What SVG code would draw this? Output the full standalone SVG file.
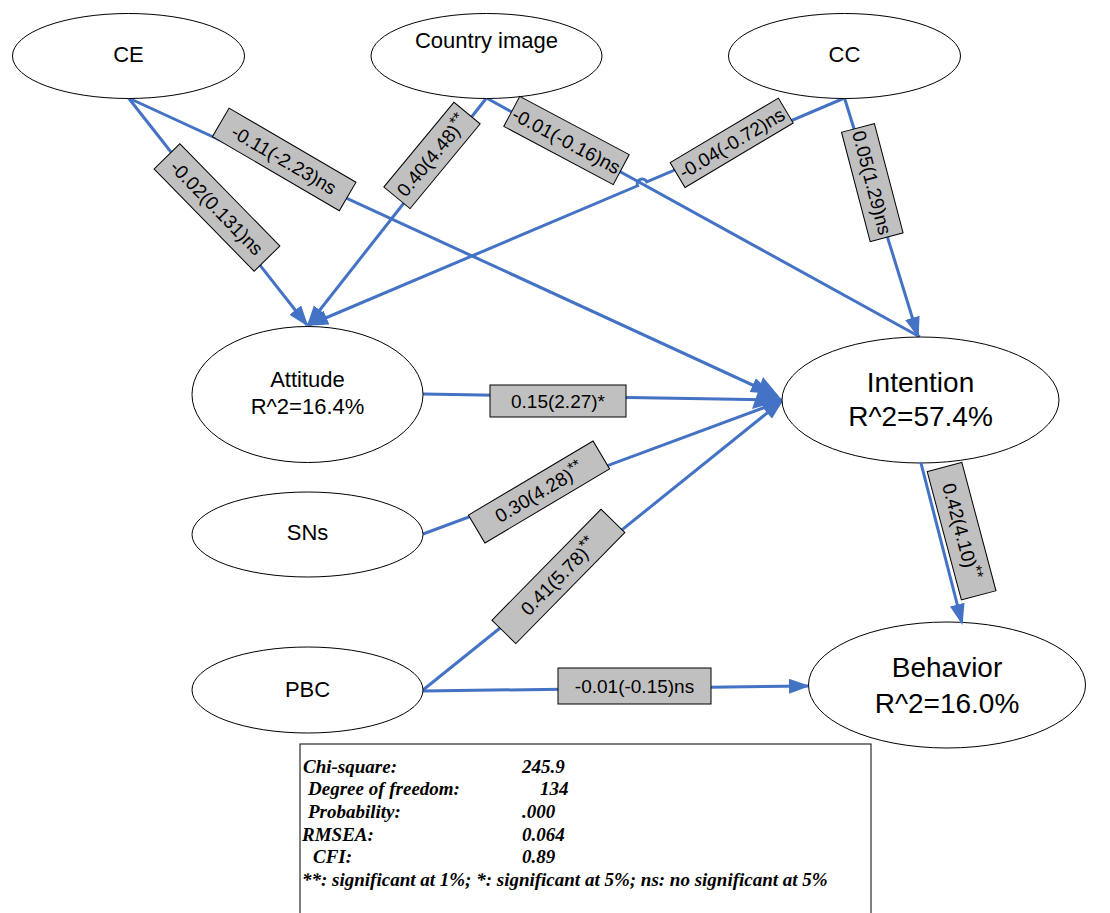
<svg xmlns="http://www.w3.org/2000/svg" width="1110" height="913" viewBox="0 0 1110 913">
<style>
.node{fill:#fff;stroke:#000;stroke-width:1}
.nt{font-family:"Liberation Sans",Arial,sans-serif;font-size:22px;fill:#000;text-anchor:middle}
.bt{font-family:"Liberation Sans",Arial,sans-serif;font-size:28px;fill:#000;text-anchor:middle}
.c{fill:none;stroke:#4472C4;stroke-width:3;marker-end:url(#arr)}
.cn{fill:none;stroke:#4472C4;stroke-width:3}
.lb rect{fill:#C0C0C0;stroke:#000;stroke-width:1}
.lb text{font-family:"Liberation Sans",Arial,sans-serif;font-size:19px;fill:#000;text-anchor:middle}
.sup{font-size:16px}
.st{font-family:"Liberation Serif","Times New Roman",serif;font-size:19px;font-weight:bold;font-style:italic;fill:#000}
</style>
<defs>
<marker id="arr" markerUnits="userSpaceOnUse" markerWidth="22" markerHeight="16" refX="19" refY="7.5" orient="auto">
<path d="M0,0 L21,7.5 L0,15 z" fill="#4472C4"/>
</marker>
</defs>
<rect width="1110" height="913" fill="#fff"/>

<g id="connectors">
<path class="c" d="M128.5,98 L307,325"/>
<path class="c" d="M128.5,98 L770,393"/>
<path class="c" d="M486.5,98 L308,325"/>
<path class="cn" d="M486.5,98 L920,337"/>
<path class="c" d="M844.5,98 L646.8,181.9 A5,5 0 0 0 637.6,185.8 L309,325"/>
<path class="c" d="M844.5,98 L918,336"/>
<path class="c" d="M423,394 L782,400"/>
<path class="c" d="M423,534 L782,401"/>
<path class="c" d="M423,690 L782,401"/>
<path class="c" d="M423,691 L808,686"/>
<polygon points="763,377 752,409 782,400" fill="#4472C4"/>
</g>

<g id="node-ce"><ellipse class="node" cx="128.5" cy="56" rx="116" ry="42.5"/><text class="nt" x="128.5" y="62">CE</text></g>
<g id="node-country-image"><ellipse class="node" cx="486.5" cy="56" rx="115.5" ry="42.5"/><text class="nt" x="486.5" y="48">Country image</text></g>
<g id="node-cc"><ellipse class="node" cx="844.5" cy="56" rx="116" ry="42.5"/><text class="nt" x="844.5" y="62">CC</text></g>
<g id="node-attitude"><ellipse class="node" cx="307.5" cy="394.5" rx="115.5" ry="68"/><text class="nt" x="307.5" y="387">Attitude</text><text class="nt" x="307.5" y="414">R^2=16.4%</text></g>
<g id="node-sns"><ellipse class="node" cx="307.5" cy="534.5" rx="115.5" ry="42.5"/><text class="nt" x="307.5" y="540">SNs</text></g>
<g id="node-pbc"><ellipse class="node" cx="307.5" cy="690" rx="115.5" ry="43"/><text class="nt" x="307.5" y="697">PBC</text></g>
<g id="node-intention"><ellipse class="node" cx="920.5" cy="400" rx="138.5" ry="63"/><text class="bt" x="920.5" y="392">Intention</text><text class="bt" x="920.5" y="426">R^2=57.4%</text></g>
<g id="node-behavior"><ellipse class="node" cx="947" cy="685" rx="138.5" ry="63"/><text class="bt" x="947" y="677">Behavior</text><text class="bt" x="947" y="713">R^2=16.0%</text></g>

<g id="labels" class="lb">
<g transform="translate(217,207.5) rotate(45.6)"><rect x="-71.5" y="-18" width="143" height="36"/><text y="7">-0.02(0.131)ns</text></g>
<g transform="translate(284.2,159.4) rotate(30.3)"><rect x="-73.5" y="-16.5" width="147" height="33"/><text y="7">-0.11(-2.23)ns</text></g>
<g transform="translate(432,155.4) rotate(-50.4)"><rect x="-55" y="-17" width="110" height="34"/><text y="7">0.40(4.48)<tspan class="sup" dy="-6">**</tspan></text></g>
<g transform="translate(566.5,140.5) rotate(28)"><rect x="-62" y="-17" width="124" height="34"/><text y="7">-0.01(-0.16)ns</text></g>
<g transform="translate(731.7,142.8) rotate(-30.8)"><rect x="-63" y="-14.5" width="126" height="29"/><text y="7">-0.04(-0.72)ns</text></g>
<g transform="translate(872.3,182.6) rotate(75.3)"><rect x="-56.5" y="-17" width="113" height="34"/><text y="7">0.05(1.29)ns</text></g>
<g transform="translate(558,401)"><rect x="-68" y="-16" width="136" height="32"/><text y="7">0.15(2.27)*</text></g>
<g transform="translate(539,492) rotate(-30.7)"><rect x="-72.5" y="-16.2" width="145" height="32.4"/><text y="7">0.30(4.28)<tspan class="sup" dy="-6">**</tspan></text></g>
<g transform="translate(558.4,576.4) rotate(-45.5)"><rect x="-77.8" y="-16.7" width="155.6" height="33.4"/><text y="7">0.41(5.78)<tspan class="sup" dy="-6">**</tspan></text></g>
<g transform="translate(634.5,686)"><rect x="-76.5" y="-18" width="153" height="36"/><text y="7">-0.01(-0.15)ns</text></g>
<g transform="translate(961.6,531.2) rotate(75.1)"><rect x="-66.4" y="-17.9" width="132.8" height="35.8"/><text y="7">0.42(4.10)<tspan class="sup" dy="-6">**</tspan></text></g>
</g>

<g id="connectors-top">
<path class="c" d="M920.7,462 L962,623"/>
</g>

<g id="fit-statistics">
<rect x="300" y="744" width="571" height="180" fill="#fff" stroke="#000" stroke-width="1"/>
<text class="st" x="303" y="773">Chi-square:</text><text class="st" x="522" y="773">245.9</text>
<text class="st" x="308" y="795">Degree of freedom:</text><text class="st" x="540" y="795">134</text>
<text class="st" x="308" y="818">Probability:</text><text class="st" x="522" y="818">.000</text>
<text class="st" x="302" y="841">RMSEA:</text><text class="st" x="522" y="841">0.064</text>
<text class="st" x="313" y="863">CFI:</text><text class="st" x="522" y="863">0.89</text>
<text class="st" x="302" y="886">**: significant at 1%; *: significant at 5%; ns: no significant at 5%</text>
</g>
</svg>
